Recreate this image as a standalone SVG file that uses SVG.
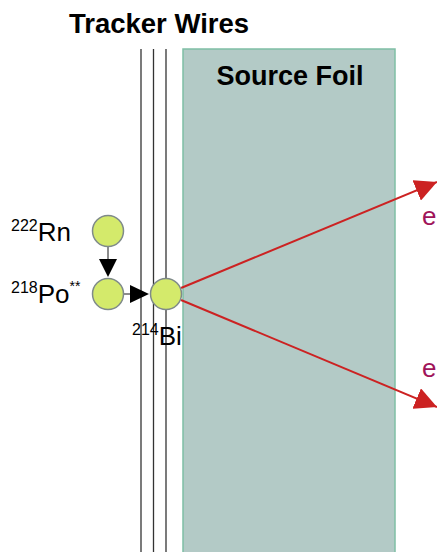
<svg xmlns="http://www.w3.org/2000/svg" width="437" height="552" viewBox="0 0 437 552">
<style>
.lbl{font-family:"Liberation Sans",Arial,sans-serif;fill:#000}
.b{font-weight:bold}
.atom{fill:#d4ea6b;stroke:#7f8a8a;stroke-width:1.5}
.wire{stroke:#333;stroke-width:1.3}
.red{stroke:#cc2222;stroke-width:2;fill:none}
.e{fill:#a0145a}
</style>
<defs>
<marker id="rh" viewBox="0 0 10 10" refX="10" refY="5" markerWidth="22" markerHeight="22" orient="auto" markerUnits="userSpaceOnUse"><path d="M0,0 L10,5 L0,10 z" fill="#cc2222"/></marker>
</defs>
<rect width="437" height="552" fill="#fff"/>
<g id="wires">
<line class="wire" x1="141" y1="49" x2="141" y2="552"/>
<line class="wire" x1="153.5" y1="49" x2="153.5" y2="552"/>
<line class="wire" x1="166" y1="49" x2="166" y2="552" stroke="#666"/>
<text class="lbl b" x="159" y="33" font-size="27.5" text-anchor="middle">Tracker Wires</text>
</g>
<g id="foil">
<rect x="183" y="49" width="212" height="510" fill="#b3cac6" stroke="#7fbfa5" stroke-width="1.5"/>
<text class="lbl b" x="290" y="85" font-size="27" text-anchor="middle">Source Foil</text>
</g>
<g id="connectors">
<line x1="108" y1="247" x2="108" y2="262" stroke="#666" stroke-width="1.5"/>
<path d="M99,259 L117,259 L108,277 z" fill="#000"/>
<line x1="124" y1="294" x2="132" y2="294" stroke="#666" stroke-width="1.5"/>
<path d="M130,285 L130,303 L149,294 z" fill="#000"/>
<line class="red" x1="181" y1="288" x2="437" y2="182" marker-end="url(#rh)"/>
<line class="red" x1="181" y1="300" x2="437" y2="407" marker-end="url(#rh)"/>
</g>
<g id="rn">
<circle class="atom" cx="108" cy="231" r="15.5"/>
<text class="lbl" x="11" y="241" font-size="26"><tspan font-size="16" dy="-10">222</tspan><tspan dy="10">Rn</tspan></text>
</g>
<g id="po">
<circle class="atom" cx="108" cy="294" r="15.5"/>
<text class="lbl" x="11" y="303" font-size="26"><tspan font-size="16" dy="-10">218</tspan><tspan dy="10">Po</tspan><tspan font-size="14" dy="-12">**</tspan></text>
</g>
<g id="bi">
<circle class="atom" cx="166" cy="294" r="15.5"/>
<text class="lbl" x="132" y="345" font-size="26"><tspan font-size="16" dy="-10">214</tspan><tspan dy="10">Bi</tspan></text>
</g>
<g id="electrons">
<text class="lbl e" x="422" y="225" font-size="26">e</text>
<text class="lbl e" x="422" y="377" font-size="26">e</text>
</g>
</svg>
